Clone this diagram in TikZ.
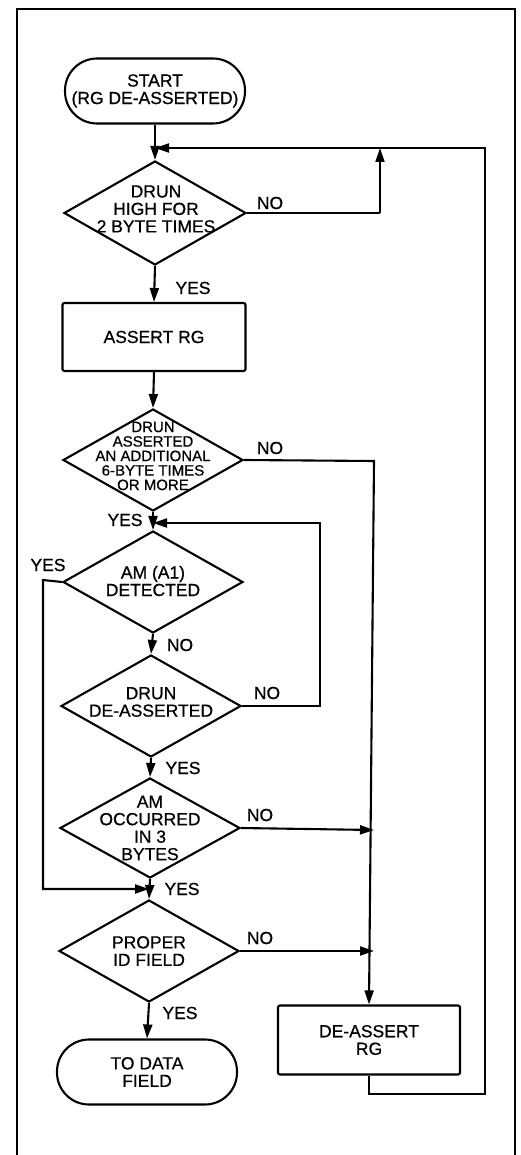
\documentclass[tikz,border=0pt]{standalone}
\usepackage{fontspec}
\setmainfont{Liberation Sans}[FakeBold=0.7]
\usetikzlibrary{arrows.meta,shapes.geometric}
\begin{document}
\begin{tikzpicture}[x=1pt,y=-1pt,
  line width=2.1pt,
  txt/.style={font=\fontsize{17.5}{17.5}\selectfont, align=center, inner sep=0pt},
  smalltxt/.style={font=\fontsize{15}{14.5}\selectfont, align=center, inner sep=0pt},
  lbl/.style={font=\fontsize{17.5}{17.5}\selectfont, inner sep=0pt},
  dia/.style={draw, shape=diamond, minimum width=180pt, minimum height=102pt, inner sep=0pt},
  term/.style={draw, rectangle, rounded corners=32pt, minimum width=180pt, minimum height=65pt, inner sep=0pt},
  procbox/.style={draw, rectangle, rounded corners=2pt, minimum width=183pt, minimum height=68pt, inner sep=0pt},
  arr/.style={-{Triangle[length=14pt,width=9pt]}},
  ln/.style={line join=miter}
]
\useasboundingbox (0,0) rectangle (520,1155);
% frame
\draw[line width=1.1pt] (17,1160) -- (17,9) -- (515,9) -- (515,1160);

% nodes
\node[term] (start) at (155,91) {};
\node[txt] (startt) at (start) {START\\(RG DE-ASSERTED)};
\coordinate (m1) at (155,148);
\node[dia, minimum width=182pt, minimum height=104pt] (d1) at (155,213) {};
\node[txt] (d1t) at (156,209) {DRUN\\HIGH FOR\\2 BYTE TIMES};
\node[procbox] (assert) at (154,337) {};
\node[txt] (assertt) at (assert) {ASSERT RG};
\node[dia] (d2) at (153,460) {};
\node[smalltxt] (d2t) at (153,456) {DRUN\\ASSERTED\\AN ADDITIONAL\\6-BYTE TIMES\\OR MORE};
\coordinate (m2) at (153,523);
\node[dia] (d3) at (153,582) {};
\node[txt] (d3t) at (153,581) {AM (A1)\\DETECTED};
\node[dia] (d4) at (151,706) {};
\node[txt] (d4t) at (151,702) {DRUN\\DE-ASSERTED};
\node[dia, minimum height=100pt] (d5) at (150,828) {};
\node[txt] (d5t) at (150,828) {AM\\OCCURRED\\IN 3\\BYTES};
\coordinate (m3) at (149,889);
\node[dia] (d6) at (149,951) {};
\node[txt] (d6t) at (149,951) {PROPER\\ID FIELD};
\node[term] (end) at (147,1072) {};
\node[txt] (endt) at (end) {TO DATA\\FIELD};
\node[procbox, minimum width=182pt, minimum height=69pt] (deassert) at (369,1040) {};
\node[txt] (deassertt) at (deassert) {DE-ASSERT\\RG};

% right-side helper coordinates
\coordinate (r1) at (380,213);
\coordinate (r1t) at (380,148);
\coordinate (loopR) at (485,148);
\coordinate (loopB) at (485,1094);
\coordinate (deb) at (369,1094);
\coordinate (r2) at (374,461);
\coordinate (r5) at (374,830);
\coordinate (r6) at (374,951);
\coordinate (l3) at (43,580);
\coordinate (l3b) at (43,889);
\coordinate (r4) at (320,706);
\coordinate (r4t) at (320,523);

% main flow
\draw[arr] (start.south) -- (d1.north);
\draw[arr] (d1.south) -- (assert.north);
\draw[arr] (assert.south) -- (d2.north);
\draw[arr] (d2.south) -- (d3.north);
\draw[arr] (d3.south) -- (d4.north);
\draw[arr] (d4.south) -- (d5.north);
\draw[arr] (d5.south) -- (d6.north);
\draw[arr] (d6.south) -- (end.north);

% d1 NO loop
\draw[ln] (d1.east) -- (r1);
\draw[arr] (r1) -- (r1t);
% deassert loop back to top
\draw[arr, ln] (deassert.south) -- (deb) -- (loopB) -- (loopR) -- (m1);
% d2 NO to deassert
\draw[arr, ln] (d2.east) -- (r2) -- (deassert.north);
% d5 NO
\draw[arr] (d5.east) -- (r5);
% d6 NO
\draw[arr] (d6.east) -- (r6);
% d3 YES
\draw[arr, ln] (d3.west) -- (l3) -- (l3b) -- (m3);
% d4 NO
\draw[arr, ln] (d4.east) -- (r4) -- (r4t) -- (m2);

% labels
\node[lbl] (n1) at (270,203) {NO};
\node[lbl] (y1) at (193,288) {YES};
\node[lbl] (n2) at (270,448) {NO};
\node[lbl] (y2) at (125,520) {YES};
\node[lbl] (y3) at (48,565) {YES};
\node[lbl] (n3) at (180,645) {NO};
\node[lbl] (n4) at (267,693) {NO};
\node[lbl] (y4) at (183,768) {YES};
\node[lbl] (n5) at (260,815) {NO};
\node[lbl] (y5) at (182,889) {YES};
\node[lbl] (n6) at (260,938) {NO};
\node[lbl] (y6) at (180,1013) {YES};
\end{tikzpicture}
\end{document}
